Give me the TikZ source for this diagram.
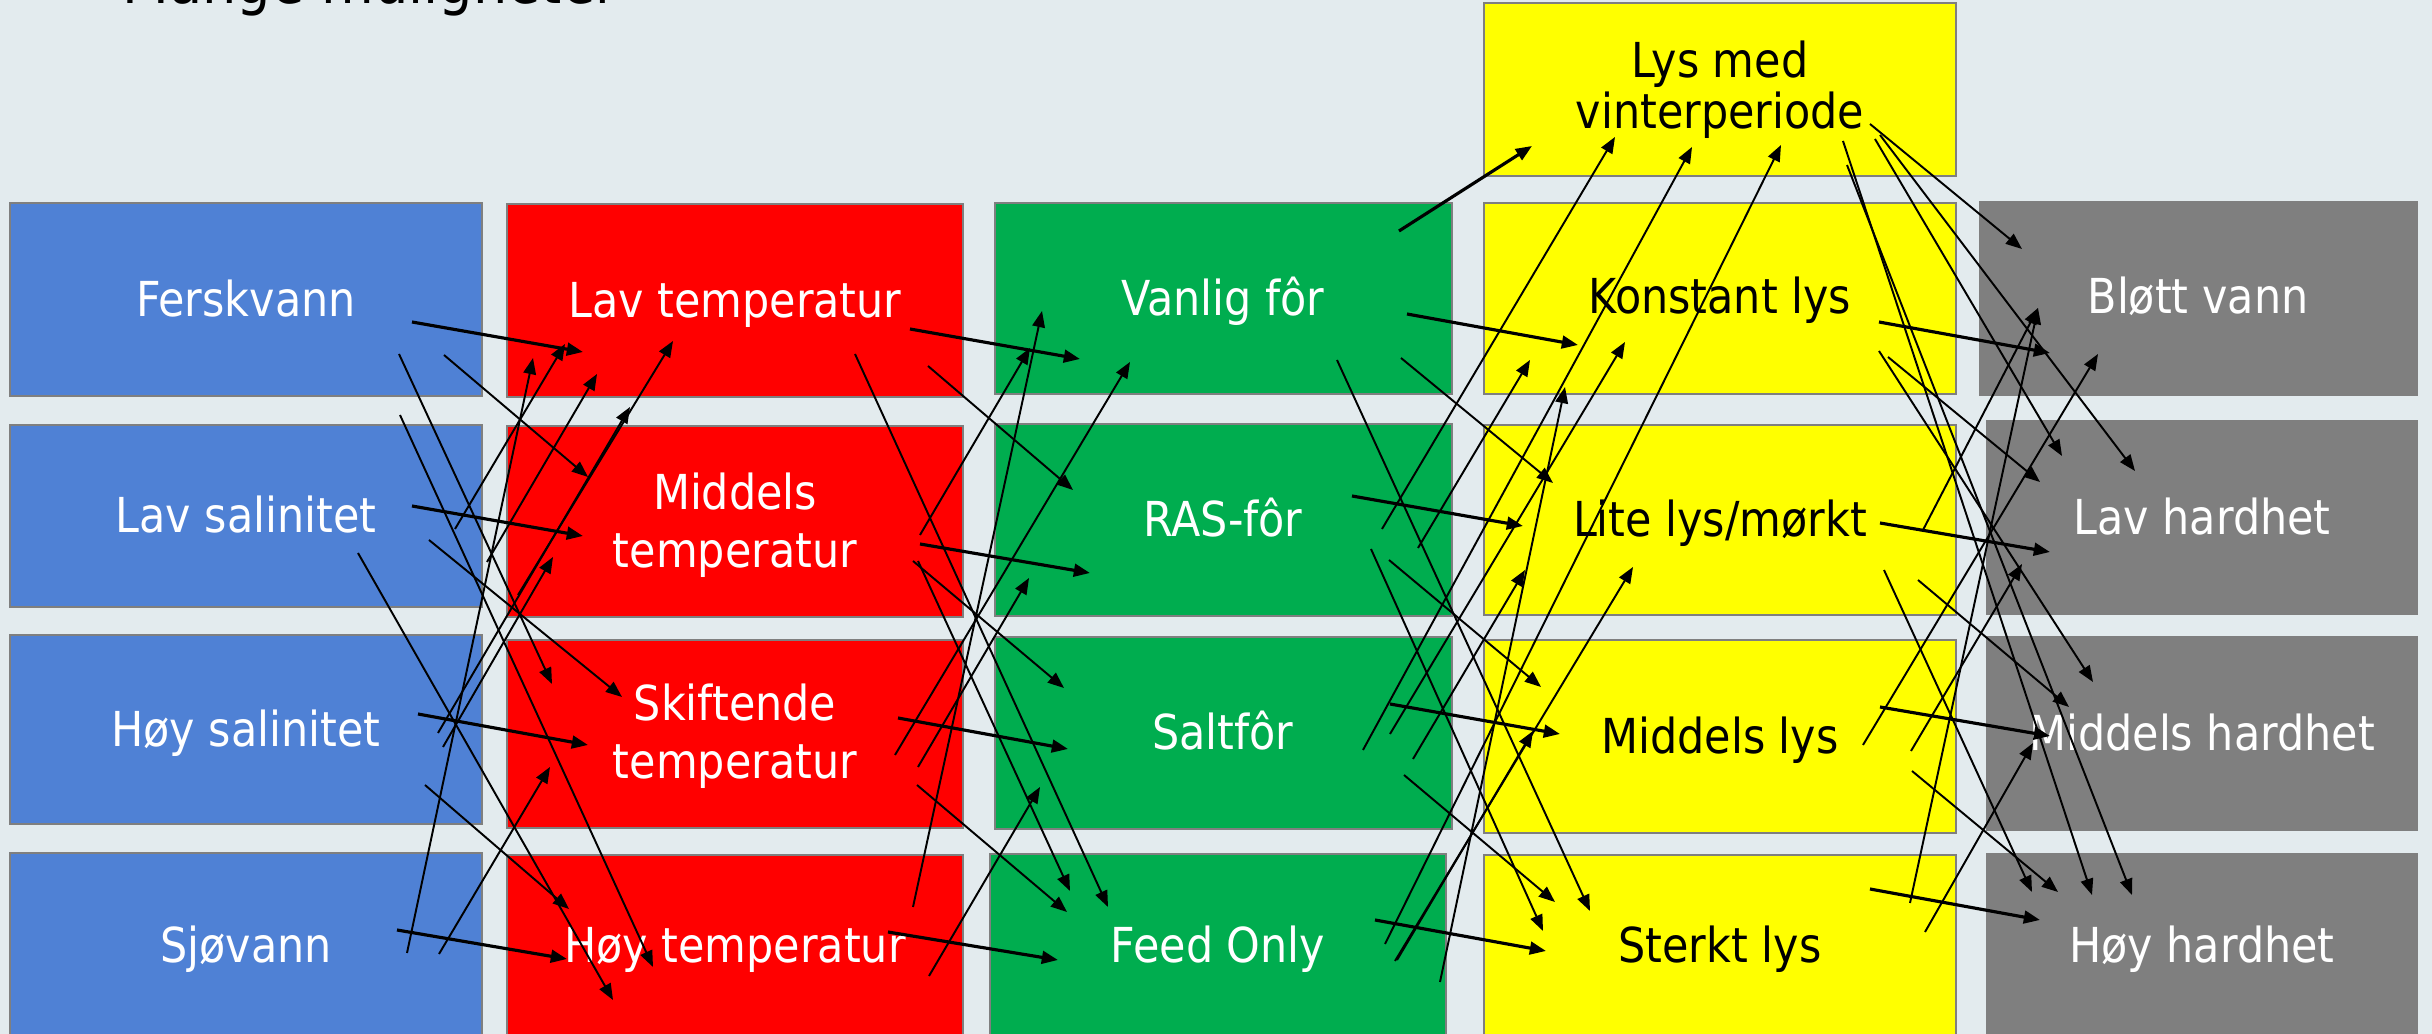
\documentclass[tikz,border=0pt]{standalone}
\usepackage{fontspec}
\setmainfont{DejaVu Sans}[FakeStretch=0.89]
\usetikzlibrary{arrows.meta}
\definecolor{cbg}{HTML}{E3EBEE}
\definecolor{cblue}{HTML}{4F81D5}
\definecolor{cred}{HTML}{FF0000}
\definecolor{cgreen}{HTML}{00AD4F}
\definecolor{cyellow}{HTML}{FFFF00}
\definecolor{cgray}{HTML}{7F7F7F}
\definecolor{cborder}{HTML}{7F7F7F}
\newcommand{\mybox}[6]{\node[boxst, fill=#2, minimum width={(#5-#3)*0.01cm}, minimum height={(#6-#4)*0.01cm}] (#1) at ({(#3+#5)/2},{(#4+#6)/2}) {};}
\newcommand{\mylab}[5]{\node[labst, text=#2, anchor=base] (#1) at (#3,#4) {#5};}
\begin{document}
\begin{tikzpicture}[x=0.01cm,y=-0.01cm,
  boxst/.style={rectangle, draw=cborder, line width=0.6pt, inner sep=0pt, outer sep=0pt},
  labst/.style={inner sep=0pt, font=\fontsize{13.7pt}{16.5pt}\selectfont, align=center},
  conn/.style={line width=0.55pt, -{Triangle[length=4.6pt,width=3.6pt]}},
  connthick/.style={conn, line width=0.9pt}]
\useasboundingbox (0,0) rectangle (2432,1034);
\clip (0,0) rectangle (2432,1034);
\fill[cbg] (0,0) rectangle (2432,1034);
\node[anchor=base west, inner sep=0pt, font=\fontsize{17.3pt}{20pt}\selectfont] (title) at (122,4) {Mange muligheter};
% blue column
\mybox{bFersk}{cblue}{10}{203}{482}{396}
\mybox{bLavSal}{cblue}{10}{425}{482}{607}
\mybox{bHoySal}{cblue}{10}{635}{482}{824}
\mybox{bSjo}{cblue}{10}{853}{482}{1050}
% red column
\mybox{rLav}{cred}{507}{204}{963}{397}
\mybox{rMid}{cred}{507}{426}{963}{617}
\mybox{rSkift}{cred}{507}{640}{963}{828}
\mybox{rHoy}{cred}{507}{855}{963}{1050}
% green column
\mybox{gVan}{cgreen}{995}{203}{1452}{394}
\mybox{gRAS}{cgreen}{995}{424}{1452}{616}
\mybox{gSalt}{cgreen}{995}{637}{1452}{829}
\mybox{gFeed}{cgreen}{990}{854}{1446}{1050}
% yellow column
\mybox{yVinter}{cyellow}{1484}{3}{1956}{176}
\mybox{yKonst}{cyellow}{1484}{203}{1956}{394}
\mybox{yLite}{cyellow}{1484}{425}{1956}{615}
\mybox{yMid}{cyellow}{1484}{640}{1956}{833}
\mybox{ySterk}{cyellow}{1484}{855}{1956}{1050}
% gray column
\mybox{xBlott}{cgray}{1980}{202}{2417}{395}
\mybox{xLav}{cgray}{1987}{421}{2417}{614}
\mybox{xMid}{cgray}{1987}{637}{2417}{830}
\mybox{xHoy}{cgray}{1987}{854}{2417}{1050}
% labels (anchor = baseline of the last line)
\mylab{lFersk}{white}{246}{317}{Ferskvann}
\mylab{lLavSal}{white}{246}{533}{Lav salinitet}
\mylab{lHoySal}{white}{246}{747}{Høy salinitet}
\mylab{lSjo}{white}{246}{963}{Sjøvann}
\mylab{lrLav}{white}{735}{318}{Lav temperatur}
\mylab{lrMid}{white}{735}{568}{Middels\\temperatur}
\mylab{lrSkift}{white}{735}{779}{Skiftende\\temperatur}
\mylab{lrHoy}{white}{735}{963}{Høy temperatur}
\mylab{lgVan}{white}{1223}{316}{Vanlig fôr}
\mylab{lgRAS}{white}{1223}{537}{RAS-fôr}
\mylab{lgSalt}{white}{1223}{750}{Saltfôr}
\mylab{lgFeed}{white}{1218}{963}{Feed Only}
\mylab{lyVinter}{black}{1720}{129}{Lys med\\[-2pt]vinterperiode}
\mylab{lyKonst}{black}{1720}{314}{Konstant lys}
\mylab{lyLite}{black}{1720}{537}{Lite lys/mørkt}
\mylab{lyMid}{black}{1720}{754}{Middels lys}
\mylab{lySterk}{black}{1720}{963}{Sterkt lys}
\mylab{lxBlott}{white}{2198}{314}{Bløtt vann}
\mylab{lxLav}{white}{2202}{535}{Lav hardhet}
\mylab{lxMid}{white}{2202}{751}{Middels hardhet}
\mylab{lxHoy}{white}{2202}{963}{Høy hardhet}
% thick (near-horizontal) connectors
\foreach \xa/\ya/\xb/\yb [count=\i] in {
  412/322/583/352, 412/506/583/536, 418/714/588/745, 397/930/567/959,
  910/329/1080/359, 920/544/1090/573, 898/718/1068/749, 888/932/1058/960,
  1399/231/1532/146, 1407/314/1578/345, 1352/496/1523/526, 1390/704/1560/734, 1375/920/1546/951,
  1879/322/2050/353, 1880/523/2050/552, 1880/707/2050/736, 1870/889/2040/920} {
  \coordinate (hs\i) at (\xa,\ya);
  \coordinate (he\i) at (\xb,\yb);
  \draw[connthick] (hs\i) -- (he\i);
}
% thin connectors
\foreach \xa/\ya/\xb/\yb [count=\i] in {
  444/355/588/477, 399/354/552/684, 400/415/653/967, 429/540/622/697,
  358/553/613/1000, 425/785/569/909, 407/953/533/358, 439/954/550/767,
  455/529/565/344, 487/562/597/374, 438/733/630/407, 443/747/553/557, 518/595/673/341,
  928/366/1073/490, 855/354/1108/907, 913/561/1064/688, 918/561/1070/891,
  917/785/1067/912, 920/535/1030/348, 895/755/1130/362, 918/767/1029/578,
  913/907/1042/311, 929/976/1040/787,
  1401/358/1553/483, 1337/360/1590/911, 1389/560/1541/687, 1371/549/1543/931,
  1404/775/1555/902, 1382/529/1615/137, 1418/548/1530/360, 1363/750/1692/147,
  1390/734/1625/342, 1413/759/1525/570, 1385/944/1781/145, 1397/960/1533/731,
  1440/982/1565/387, 1395/961/1633/567,
  1870/124/2022/249, 1880/135/2135/471, 1875/139/2062/456, 1843/141/2092/895,
  1847/165/2132/895, 1888/357/2040/482, 1879/351/2093/682, 1923/530/2038/308,
  1884/570/2032/892, 1918/580/2069/707, 1863/745/2098/354, 1911/751/2022/564,
  1912/771/2058/892, 1910/903/2038/308, 1925/932/2033/743} {
  \coordinate (ts\i) at (\xa,\ya);
  \coordinate (te\i) at (\xb,\yb);
  \draw[conn] (ts\i) -- (te\i);
}
\end{tikzpicture}
\end{document}
